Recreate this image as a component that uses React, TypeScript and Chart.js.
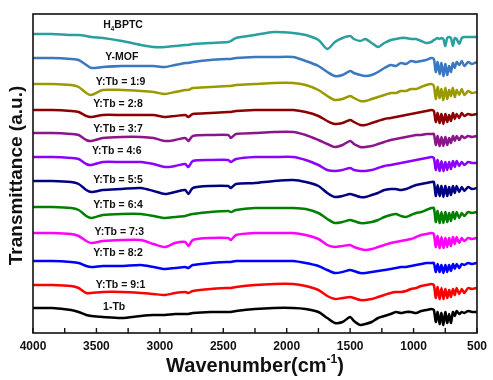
import React, { useEffect, useRef } from "react";
import { Chart, registerables } from "chart.js";

Chart.register(...registerables);

// Wavenumber grid (cm-1), shared by all spectra
const wavenumbers = [
  4000, 3850, 3700, 3640, 3580, 3540, 3450, 3300, 3150, 3050,
  2960, 2880, 2800, 2775, 2740, 2600, 2460, 2440, 2400, 2250,
  2100, 1950, 1850, 1750, 1680, 1620, 1560, 1500, 1470, 1420,
  1380, 1330, 1280, 1230, 1180, 1140, 1100, 1060, 1020, 980,
  940, 900, 860, 840, 825, 810, 795, 780, 765, 750,
  735, 720, 705, 690, 675, 660, 640, 620, 600, 570,
  540, 500,
];

const seriesNames = [
  "H4BPTC", "Y-MOF", "Y:Tb = 1:9", "Y:Tb = 2:8", "Y:Tb = 3:7", "Y:Tb = 4:6",
  "Y:Tb = 5:5", "Y:Tb = 6:4", "Y:Tb = 7:3", "Y:Tb = 8:2", "Y:Tb = 9:1", "1-Tb",
];

const seriesColors = [
  "#2a9fa0", "#3a78c0", "#9a9a00", "#8b0000", "#8b158b", "#8c00ff",
  "#000080", "#008000", "#ff00ff", "#0000ff", "#ff0000", "#000000",
];

// Vertical stacking offsets (a.u.)
const stackOffsets = [299, 275, 249, 223, 200, 176, 152, 126, 100, 72, 48, 25];

// Relative transmittance of each spectrum (a.u.)
const h4bptc = [0,0,-1,-1,-2,-3,-4,-7,-11,-13, -13,-12,-11,-11,-10,-9,-8,-7,-4,-1, 2,1,-1,-6,-15,-8,-4,-2,-5,-7, -5,-9,-13,-9,-6,-5,-4,-4,-5,-5, -7,-9,-8,-6,-5,-4,-5,-4,-5,-12, -4,-3,-4,-12,-4,-5,-10,-4,-3,-3, -3,-3];
const yMof = [0,0,-1,-2,-7,-10,-9,-8,-8,-8, -9,-7,-5,-5,-4,-2,-1,-1,0,1, 1,1,-3,-8,-14,-18,-17,-13,-15,-17, -18,-17,-14,-10,-7,-8,-5,-6,-3,-4, -3,-2,0,-1,-14,-4,-16,-5,-18,-6, -17,-8,-14,-5,-10,-4,-7,-3,-8,-4, -6,-4];
const tb19 = [0,0,-1,-3,-9,-11,-6,-6,-7,-8, -10,-8,-6,-6,-4,-3,-2,-2,-1,0, 1,1,-1,-6,-12,-16,-15,-12,-14,-17, -17,-15,-13,-11,-9,-9,-7,-7,-5,-5, -3,-1,0,-2,-15,-3,-14,-5,-16,-4, -15,-6,-12,-4,-13,-6,-11,-5,-11,-7, -9,-8];
const tb28 = [0,0,-1,-2,-6,-7,-5,-5,-5,-5, -7,-6,-5,-7,-4,-3,-2,-2,-1,0, 0,0,-2,-6,-11,-14,-13,-10,-12,-15, -15,-13,-11,-9,-8,-7,-6,-5,-4,-3, -2,-1,0,-1,-12,-3,-13,-4,-14,-4, -12,-5,-11,-3,-9,-4,-8,-3,-6,-4, -5,-4];
const tb37 = [0,0,-1,-2,-7,-8,-5,-4,-4,-5, -8,-7,-5,-8,-3,-2,-2,-5,-1,0, 1,1,-2,-7,-11,-14,-12,-8,-11,-14, -14,-13,-11,-9,-7,-6,-5,-4,-3,-2, -2,-1,-1,-1,-12,-3,-13,-4,-13,-4, -12,-5,-10,-3,-8,-3,-7,-3,-5,-3, -4,-3];
const tb46 = [0,0,-1,-2,-7,-8,-5,-5,-5,-7, -10,-9,-7,-10,-4,-3,-3,-5,-2,0, 0,0,-3,-8,-13,-14,-13,-11,-13,-14, -14,-13,-11,-9,-8,-7,-6,-5,-4,-3, -2,-1,0,-1,-13,-3,-14,-4,-14,-5, -13,-5,-12,-4,-10,-4,-9,-5,-8,-5, -6,-6];
const tb55 = [0,0,-1,-3,-9,-11,-9,-8,-7,-10, -13,-11,-9,-13,-7,-5,-5,-7,-3,-2, 0,1,-1,-5,-12,-16,-15,-13,-14,-16, -16,-14,-12,-9,-8,-8,-9,-8,-6,-4, -3,-2,-1,-1,-15,-4,-15,-5,-16,-5, -15,-6,-14,-5,-12,-5,-11,-6,-10,-6, -8,-7];
const tb64 = [0,0,-1,-3,-9,-11,-8,-7,-7,-9, -11,-10,-9,-8,-7,-5,-4,-5,-3,-1, -1,-1,-2,-6,-12,-16,-15,-13,-14,-16, -16,-15,-13,-10,-8,-7,-9,-10,-8,-6, -5,-3,-1,-1,-15,-4,-16,-5,-16,-5, -15,-6,-14,-5,-12,-5,-11,-6,-9,-5, -6,-5];
const tb73 = [0,0,-1,-3,-8,-10,-8,-7,-7,-11, -14,-10,-9,-13,-7,-5,-5,-7,-2,0, 0,0,-2,-6,-12,-14,-13,-12,-14,-16, -17,-16,-14,-12,-10,-9,-8,-7,-6,-4, -2,-1,0,-1,-14,-3,-15,-4,-15,-5, -14,-5,-13,-4,-11,-4,-10,-5,-8,-5, -6,-5];
const tb82 = [0,0,-1,-2,-5,-6,-5,-5,-4,-6, -8,-7,-6,-7,-4,-2,-1,-1,0,0, 0,0,-2,-5,-9,-12,-11,-9,-10,-12, -12,-11,-10,-9,-8,-7,-6,-6,-5,-4, -3,-2,-2,-2,-11,-3,-11,-4,-12,-4, -11,-4,-10,-3,-8,-3,-7,-3,-4,-2, -3,-2];
const tb91 = [0,0,-1,-3,-8,-8,-7,-7,-8,-9, -10,-8,-7,-8,-6,-4,-3,-3,-2,0, 1,1,-1,-5,-11,-14,-13,-12,-13,-15, -15,-14,-12,-10,-8,-7,-7,-6,-4,-3, -1,0,1,0,-13,-2,-14,-3,-14,-4, -13,-5,-12,-4,-10,-3,-9,-4,-8,-3, -4,-3];
const tb1 = [0,0,-2,-4,-7,-8,-9,-10,-8,-7, -7,-6,-6,-6,-5,-4,-4,-4,-3,-1, 0,0,-1,-4,-10,-15,-14,-9,-13,-17, -16,-14,-10,-8,-6,-4,-5,-4,-4,-5, -3,-2,-1,-2,-14,-4,-16,-5,-17,-4, -15,-6,-15,-4,-8,-3,-6,-4,-5,-3, -4,-4];

const spectra = [h4bptc, yMof, tb19, tb28, tb37, tb46, tb55, tb64, tb73, tb82, tb91, tb1];

// Label anchors (data coordinates: wavenumber, a.u.)
const labelWavenumbers = [3290, 3300, 3310, 3330, 3330, 3340, 3330, 3330, 3320, 3330, 3310, 3360];
const labelValues = [308, 276, 251, 229, 204, 182, 153, 128, 101, 80, 48, 26];

const xTicks = [4000, 3500, 3000, 2500, 2000, 1500, 1000, 500];

const FONT = "'Liberation Sans', Arial, sans-serif";

const decorPlugin = {
  id: "decor",
  afterDraw(chart: any) {
    const { ctx, chartArea } = chart;
    const xs = chart.scales.x;
    const ys = chart.scales.y;
    ctx.save();
    // frame
    ctx.strokeStyle = "#111";
    ctx.lineWidth = 1.6;
    ctx.strokeRect(chartArea.left, chartArea.top, chartArea.right - chartArea.left, chartArea.bottom - chartArea.top);
    // inward ticks every 250
    ctx.lineWidth = 1.4;
    for (let w = 4000; w >= 500; w -= 250) {
      const px = xs.getPixelForValue(w);
      ctx.beginPath();
      ctx.moveTo(px, chartArea.bottom);
      ctx.lineTo(px, chartArea.bottom - 5);
      ctx.stroke();
    }
    // series labels
    ctx.fillStyle = "#111";
    ctx.textBaseline = "middle";
    const fs = 10.5;
    seriesNames.forEach((name, i) => {
      const px = xs.getPixelForValue(labelWavenumbers[i]);
      const py = ys.getPixelForValue(labelValues[i]);
      if (name === "H4BPTC") {
        ctx.font = `bold ${fs}px ${FONT}`;
        const wH = ctx.measureText("H").width;
        ctx.font = `bold ${fs * 0.6}px ${FONT}`;
        const w4 = ctx.measureText("4").width;
        ctx.font = `bold ${fs}px ${FONT}`;
        const wRest = ctx.measureText("BPTC").width;
        let x0 = px - (wH + w4 + wRest) / 2;
        ctx.textAlign = "left";
        ctx.fillText("H", x0, py);
        ctx.font = `bold ${fs * 0.6}px ${FONT}`;
        ctx.fillText("4", x0 + wH, py + 4);
        ctx.font = `bold ${fs}px ${FONT}`;
        ctx.fillText("BPTC", x0 + wH + w4, py);
      } else {
        ctx.font = `bold ${fs}px ${FONT}`;
        ctx.textAlign = "center";
        ctx.fillText(name, px, py);
      }
    });
    // x title
    const tfs = 20;
    ctx.font = `bold ${tfs}px ${FONT}`;
    const t1 = "Wavenumber(cm";
    const w1 = ctx.measureText(t1).width;
    ctx.font = `bold ${tfs * 0.6}px ${FONT}`;
    const ws = ctx.measureText("-1").width;
    ctx.font = `bold ${tfs}px ${FONT}`;
    const w3 = ctx.measureText(")").width;
    const cx = (chartArea.left + chartArea.right) / 2;
    let x0 = cx - (w1 + ws + w3) / 2;
    const ty = 366;
    ctx.textAlign = "left";
    ctx.textBaseline = "middle";
    ctx.fillText(t1, x0, ty);
    ctx.font = `bold ${tfs * 0.6}px ${FONT}`;
    ctx.fillText("-1", x0 + w1, ty - 6);
    ctx.font = `bold ${tfs}px ${FONT}`;
    ctx.fillText(")", x0 + w1 + ws, ty);
    // y title
    ctx.translate(17, (chartArea.top + chartArea.bottom) / 2 + 2);
    ctx.rotate(-Math.PI / 2);
    ctx.textAlign = "center";
    ctx.font = `bold 19px ${FONT}`;
    ctx.fillText("Transmittance (a.u.)", 0, 0);
    ctx.restore();
  },
};

export default function App() {
  const ref = useRef<HTMLCanvasElement | null>(null);
  useEffect(() => {
    if (!ref.current) return;
    const datasets = spectra.map((s, i) => ({
      label: seriesNames[i],
      data: wavenumbers.map((w, j) => ({ x: w, y: stackOffsets[i] + s[j] })),
      borderColor: seriesColors[i],
      backgroundColor: seriesColors[i],
      borderWidth: 2.5,
      pointRadius: 0,
      tension: 0.25,
      fill: false,
    }));
    const chart = new Chart(ref.current, {
      type: "line",
      data: { datasets },
      options: {
        animation: false,
        responsive: false,
        devicePixelRatio: 1,
        layout: { autoPadding: false, padding: { left: 33, top: 14, right: 12, bottom: 0 } },
        plugins: { legend: { display: false }, tooltip: { enabled: false } },
        scales: {
          x: {
            type: "linear",
            reverse: true,
            min: 500,
            max: 4000,
            grid: { display: false, drawTicks: false },
            border: { display: false },
            afterFit(scale: any) { scale.height = 47; },
            afterBuildTicks(scale: any) { scale.ticks = xTicks.map((v) => ({ value: v })); },
            ticks: {
              autoSkip: false,
              maxRotation: 0,
              padding: 6,
              color: "#111",
              font: { family: FONT, size: 12, weight: "bold" },
              callback: (v: any) => String(v),
            },
          },
          y: { type: "linear", display: false, min: 0, max: 319 },
        },
      } as any,
      plugins: [decorPlugin],
    });
    return () => chart.destroy();
  }, []);
  return (
    <div style={{ position: "absolute", left: 0, top: 0, width: 493, height: 380, background: "#fff" }}>
      <canvas ref={ref} width={493} height={380} />
    </div>
  );
}
